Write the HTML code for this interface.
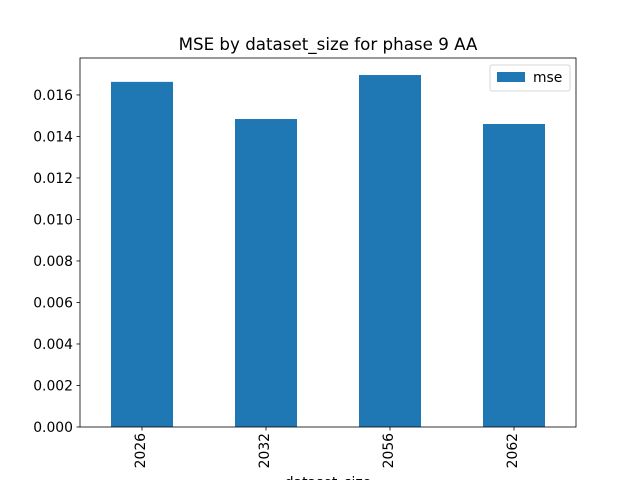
<!DOCTYPE html>
<html><head><meta charset="utf-8"><style>
body{margin:0;background:#fff;width:640px;height:480px;overflow:hidden}
svg{font-family:"DejaVu Sans","Liberation Sans",sans-serif}
</style></head><body>
<svg id="c" width="640" height="480"></svg>
<script>
const categories=["2026","2032","2056","2062"];
const mseValues=[0.01663,0.01484,0.01696,0.0146];
const yTicks=[0,0.002,0.004,0.006,0.008,0.010,0.012,0.014,0.016];
const yTickLabels=["0.000","0.002","0.004","0.006","0.008","0.010","0.012","0.014","0.016"];
const NS="http://www.w3.org/2000/svg";
const svg=document.getElementById('c');
const L=80,R=576,T=58,B=427;
const ymax=0.01778;
function y(v){return B-(v/ymax)*(B-T);}
const step=(R-L)/categories.length;
function xc(i){return L+step*(i+0.5);}
function el(t,a,txt){const e=document.createElementNS(NS,t);for(const k in a)e.setAttribute(k,a[k]);if(txt!=null)e.textContent=txt;svg.appendChild(e);return e;}
categories.forEach((c,i)=>{
 const top=y(mseValues[i]);
 const b=el('rect',{x:xc(i)-step*0.25,y:top,width:step*0.5,height:B-top,fill:'#1f77b4'});
 
 
 const tk=el('line',{x1:xc(i),x2:xc(i),y1:B,y2:B+3.5,stroke:'#000','stroke-width':0.8});
 
 
 const t=el('text',{x:0,y:0,'font-size':13.9,'text-anchor':'end','dominant-baseline':'central',transform:`translate(${xc(i)-1},${B+6}) rotate(-90)`},c);
 
 
});
yTicks.forEach((v,i)=>{
 const tk=el('line',{x1:L-3.5,x2:L,y1:y(v),y2:y(v),stroke:'#000','stroke-width':0.8});
 
 
 const t=el('text',{x:L-7,y:y(v)+5,'font-size':13.9,'text-anchor':'end'},yTickLabels[i]);
 
 
});
const fr=el('rect',{x:L,y:T,width:R-L,height:B-T,fill:'none',stroke:'#000','stroke-width':0.8});


const ti=el('text',{x:(L+R)/2,y:T-8,'font-size':16.7,'text-anchor':'middle'},'MSE by dataset_size for phase 9 AA');


const xl=el('text',{x:(L+R)/2,y:487,'font-size':13.9,'text-anchor':'middle'},'dataset_size');


const lg=el('rect',{x:490,y:65,width:80,height:26,fill:'#fff',stroke:'#ccc','stroke-width':0.8,rx:2});


const lp=el('rect',{x:497,y:72,width:28,height:10,fill:'#1f77b4'});


const lt=el('text',{x:533,y:82,'font-size':13.9},'mse');


</script>
</body></html>
